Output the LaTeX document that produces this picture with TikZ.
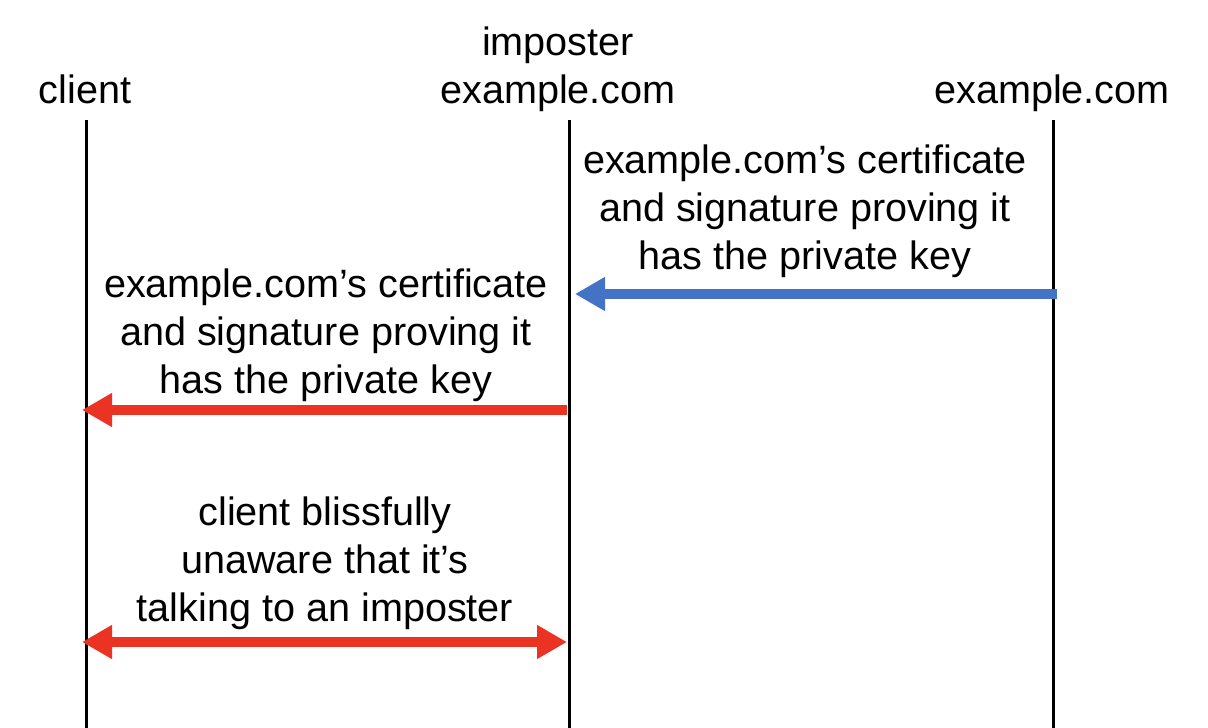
\documentclass[tikz,border=0pt]{standalone}
\usepackage{fontspec}
\setmainfont{Liberation Sans}
\usetikzlibrary{arrows.meta}
\definecolor{myblue}{HTML}{4472C4}
\definecolor{myred}{HTML}{EA3323}
\begin{document}
\begin{tikzpicture}[x=1pt,y=-1pt,
  lbl/.style={font=\fontsize{39.6}{48}\selectfont, align=center, inner sep=0pt},
  life/.style={line width=3pt, black},
  msg/.style={line width=10pt, -{Triangle[length=30pt,width=32pt]}},
  msgboth/.style={line width=10pt, {Triangle[length=30pt,width=32pt]}-{Triangle[length=30pt,width=32pt]}}]
\useasboundingbox (0,0) rectangle (1208,728);
% headers
\node[lbl, anchor=base] (hc) at (85,103) {client};
\node[lbl, anchor=base] (hi) at (558,103) {imposter\\example.com};
\node[lbl, anchor=base] (he) at (1052,103) {example.com};
% lifelines
\coordinate (c0) at (86,120); \coordinate (c1) at (86,728);
\coordinate (i0) at (569,120); \coordinate (i1) at (569,728);
\coordinate (e0) at (1053,120); \coordinate (e1) at (1053,728);
\draw[life] (c0) -- (c1);
\draw[life] (i0) -- (i1);
\draw[life] (e0) -- (e1);
% arrows
\coordinate (a1s) at (1057,294); \coordinate (a1e) at (575,294);
\draw[msg, myblue] (a1s) -- (a1e);
\coordinate (a2s) at (567,410); \coordinate (a2e) at (82,410);
\draw[msg, myred] (a2s) -- (a2e);
\coordinate (a3s) at (82,642); \coordinate (a3e) at (567,642);
\draw[msgboth, myred] (a3s) -- (a3e);
% labels
\node[lbl] (t1) at (805,211) {example.com’s certificate\\and signature proving it\\has the private key};
\node[lbl] (t2) at (326,335) {example.com’s certificate\\and signature proving it\\has the private key};
\node[lbl] (t3) at (325,563) {client blissfully\\unaware that it’s\\talking to an imposter};
\end{tikzpicture}
\end{document}
